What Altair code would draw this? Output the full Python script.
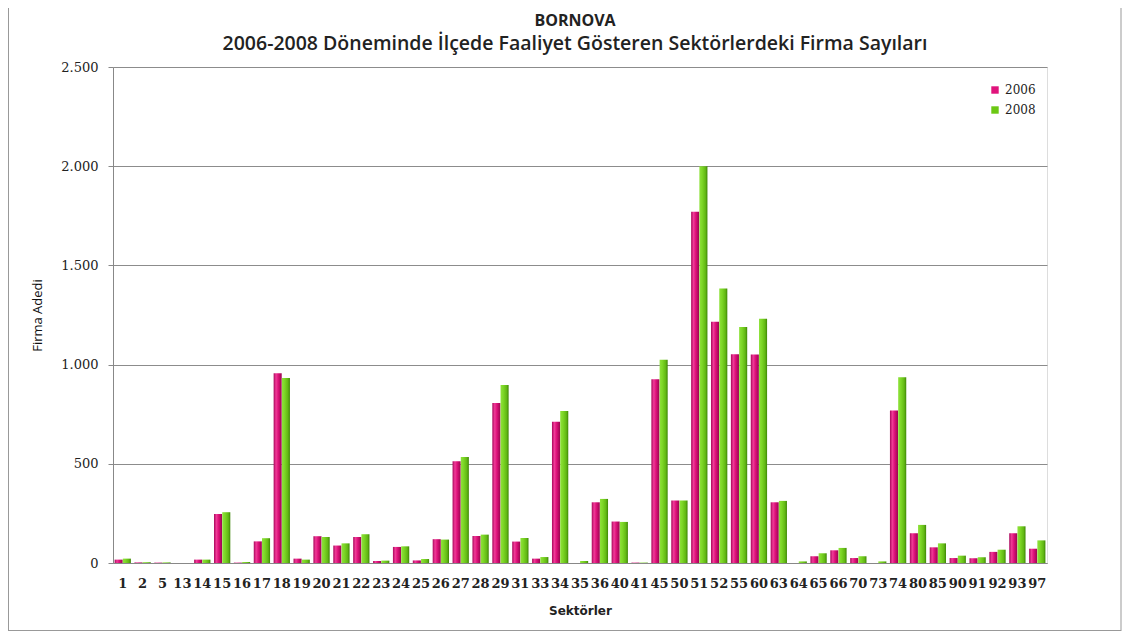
import altair as alt
import pandas as pd

sectors = ["1","2","5","13","14","15","16","17","18","19","20","21","22","23","24","25",
           "26","27","28","29","31","33","34","35","36","40","41","45","50","51","52","55",
           "60","63","64","65","66","70","73","74","80","85","90","91","92","93","97"]
v2006 = [17,3,2,0,17,247,2,109,957,22,135,88,131,10,81,13,
         120,513,136,807,108,22,712,0,306,209,2,926,315,1771,1216,1052,
         1051,306,0,34,64,25,0,769,150,79,25,24,56,150,72]
v2008 = [22,4,3,0,17,256,5,125,932,17,131,99,145,12,84,20,
         118,534,143,897,126,30,766,10,323,207,2,1024,315,2000,1384,1190,
         1231,313,8,49,76,34,8,936,192,99,37,29,67,185,114]
years = ["2006", "2008"]
colors = ["#e0137c", "#6cc814"]

rows = []
for s, a, b in zip(sectors, v2006, v2008):
    rows.append({"Sektör": s, "Yıl": years[0], "Adet": a})
    rows.append({"Sektör": s, "Yıl": years[1], "Adet": b})
df = pd.DataFrame(rows)

W, H = 934, 496
PL, PT, PR, PB = 105, 59, 75, 69

def grad(stops):
    return alt.Gradient(gradient="linear", x1=0, x2=1, y1=0, y2=0,
                        stops=[alt.GradientStop(color=c, offset=o) for o, c in stops])

pink_fill = grad([(0, "#a8065a"), (0.3, "#f03c98"), (0.55, "#e0137c"), (1, "#9a0550")])
green_fill = grad([(0, "#8fe23c"), (0.35, "#7cd626"), (0.75, "#62b814"), (1, "#3d8606")])

x_enc = alt.X("Sektör:N", sort=sectors,
              scale=alt.Scale(paddingInner=0.18, paddingOuter=0.08),
              axis=alt.Axis(title="Sektörler", labelAngle=0, ticks=False,
                            labelFont="DejaVu Serif", labelFontSize=13, labelFontWeight="bold",
                            labelColor="#222", labelPadding=14,
                            titleFont="DejaVu Sans", titleFontSize=12, titleFontWeight="bold",
                            titleColor="#222", titlePadding=15,
                            domainColor="#888", labelFlush=False))
xo_enc = alt.XOffset("Yıl:N", sort=years, scale=alt.Scale(domain=years, paddingInner=0.02))
y_enc = alt.Y("Adet:Q", scale=alt.Scale(domain=[0, 2500]),
              axis=alt.Axis(title="Firma Adedi", values=[0, 500, 1000, 1500, 2000, 2500],
                            labelExpr="replace(format(datum.value, ','), ',', '.')",
                            labelFont="DejaVu Serif", labelFontSize=13, labelColor="#222",
                            labelPadding=10, tickSize=5, tickColor="#888", domainColor="#888",
                            gridColor="#8c8c8c", gridWidth=1,
                            titleFont="Open Sans", titleFontSize=13, titleFontWeight="normal",
                            titleColor="#111", titlePadding=16))

base = alt.Chart(df)
bars06 = base.transform_filter(alt.datum["Yıl"] == years[0]).mark_bar(fill=pink_fill).encode(
    x=x_enc, xOffset=xo_enc, y=y_enc)
bars08 = base.transform_filter(alt.datum["Yıl"] == years[1]).mark_bar(fill=green_fill).encode(
    x=x_enc, xOffset=xo_enc, y=y_enc)

legend_layer = base.mark_point(opacity=0, filled=True).encode(
    x=x_enc, xOffset=xo_enc, y=y_enc,
    color=alt.Color("Yıl:N", sort=years, scale=alt.Scale(domain=years, range=colors),
                    legend=alt.Legend(title=None, orient="none", legendX=876, legendY=17,
                                      symbolType="square", symbolSize=55, symbolOpacity=1,
                                      labelFont="DejaVu Serif", labelFontSize=12,
                                      labelColor="#222", rowPadding=8)),
)

# frame: left, right and bottom edges of the chart border
edges = pd.DataFrame({"a": [0]})
left_edge = alt.Chart(edges).mark_rule(stroke="#999", strokeWidth=1).encode(
    x=alt.value(-PL + 0.5), y=alt.value(-PT), y2=alt.value(H + PB - 1))
right_edge = alt.Chart(edges).mark_rule(stroke="#999", strokeWidth=1).encode(
    x=alt.value(W + PR - 1), y=alt.value(-PT), y2=alt.value(H + PB - 1))
bottom_edge = alt.Chart(edges).mark_rule(stroke="#999", strokeWidth=1).encode(
    x=alt.value(-PL + 0.5), x2=alt.value(W + PR - 1), y=alt.value(H + PB - 1.5))

chart = alt.layer(bars06, bars08, legend_layer, left_edge, right_edge, bottom_edge).properties(
    width=W, height=H,
    title=alt.TitleParams(text="BORNOVA",
                          subtitle="2006-2008 Döneminde İlçede Faaliyet Gösteren Sektörlerdeki Firma Sayıları",
                          font="Open Sans", fontSize=16, fontWeight="bold", color="#222",
                          subtitleFont="Open Sans", subtitleFontSize=19.5, subtitleFontWeight=600,
                          subtitleColor="#222", subtitlePadding=6, anchor="middle",
                          offset=-46, dx=-5),
    autosize=alt.AutoSizeParams(type="none"),
    padding={"left": PL, "top": PT, "right": PR, "bottom": PB},
).configure_view(stroke=None).configure(background="white")

chart.save("out.html", embed_options={"renderer": "svg", "actions": False})
